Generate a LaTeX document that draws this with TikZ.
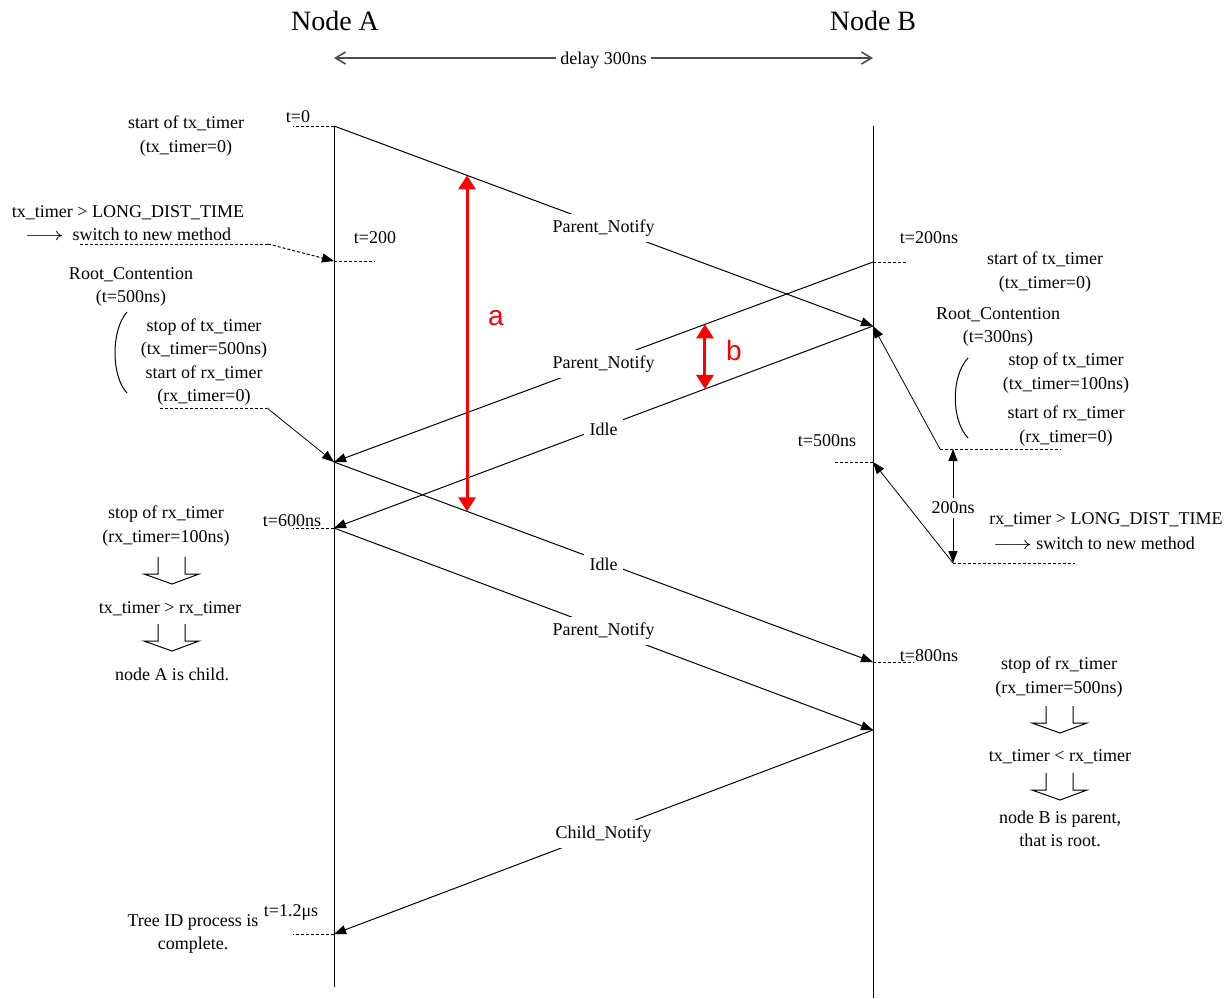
\documentclass[tikz,border=0pt]{standalone}
\usepackage{fontspec}
\setmainfont{Liberation Serif}
\newfontfamily\redsans{Liberation Sans}
\usetikzlibrary{arrows.meta,calc}

\begin{document}
\begin{tikzpicture}[
    x=0.5pt, y=-0.5pt,
    >={Triangle[length=6pt,width=4.5pt]},
    lbl/.style={font=\fontsize{9}{11.6}\selectfont, inner sep=0pt, align=center, yshift=-1pt},
    title/.style={font=\fontsize{14}{16}\selectfont},
    life/.style={line width=0.5pt},
    msg/.style={->, line width=0.5pt},
    msglbl/.style={lbl, fill=white, inner sep=3pt},
    tick/.style={line width=0.5pt, dash pattern=on 1.5pt off 1pt},
    note/.style={->, line width=0.4pt},
    redarr/.style={{Triangle[length=7pt,width=8.5pt]}-{Triangle[length=7pt,width=8.5pt]},
                   red, line width=1.5pt},
    redlbl/.style={red, font=\redsans\fontsize{14}{16}\selectfont},
    hollow/.pic={\draw[line width=0.5pt] (-14,0) -- (-14,17) -- (-28,17) -- (0,27)
                 -- (27,17) -- (13,17) -- (13,0);},
]
\useasboundingbox (0,0) rectangle (1232,998);

% lifelines
\node[title] (nA) at (335,21) {Node A};
\node[title] (nB) at (873,21) {Node B};
\coordinate (Atop) at (334,126);
\coordinate (Abot) at (334,987);
\coordinate (Btop) at (873,126);
\coordinate (Bbot) at (873,998);
\draw[life] (Atop) -- (Abot);
\draw[life] (Btop) -- (Bbot);

\coordinate (dl) at (334,58);
\coordinate (dr) at (873,58);
\draw[{Straight Barb[length=5pt,width=6pt]}-{Straight Barb[length=5pt,width=6pt]},
      gray!60!black, line width=0.8pt]
    (dl) -- node[lbl, fill=white, inner sep=2pt, text=black] {delay 300ns} (dr);

% events on the lifelines
\coordinate (A0) at (334,126);
\coordinate (A200) at (334,261);
\coordinate (A1) at (334,462);
\coordinate (A2) at (334,528);
\coordinate (A3) at (334,934);
\coordinate (B0) at (873,262);
\coordinate (B1) at (873,326);
\coordinate (B500) at (873,462);
\coordinate (B2) at (873,662);
\coordinate (B3) at (873,730);

% messages
\draw[msg] (A0) -- node[msglbl] {Parent\_Notify} (B1);
\draw[msg] (B0) -- node[msglbl] {Parent\_Notify} (A1);
\draw[msg] (B1) -- node[msglbl] {Idle} (A2);
\draw[msg] (A1) -- node[msglbl] {Idle} (B2);
\draw[msg] (A2) -- node[msglbl] {Parent\_Notify} (B3);
\draw[msg] (B3) -- node[msglbl] {Child\_Notify} (A3);

% time marks
\draw[tick] (A0) -- ++(-41,0);
\draw[tick] (A200) -- ++(41,0);
\draw[tick] (A2) -- ++(-41,0);
\draw[tick] (A3) -- ++(-41,0);
\draw[tick] (B0) -- ++(34,0);
\draw[tick] (B500) -- ++(-40,0);
\draw[tick] (B2) -- ++(41,0);
\node[lbl] (t0) at (298,115) {t=0};
\node[lbl] (t200) at (375,236) {t=200};
\node[lbl] (t600) at (292,519) {t=600ns};
\node[lbl] (t1200) at (291,910) {t=1.2μs};
\node[lbl] (tB200) at (929,236) {t=200ns};
\node[lbl] (tB500) at (827,439) {t=500ns};
\node[lbl] (tB800) at (929,654) {t=800ns};

% Node A side
\node[lbl] (stA) at (186,134) {start of tx\_timer\\(tx\_timer=0)};
\node[lbl] (swA) at (128,221) {tx\_timer > LONG\_DIST\_TIME\\\scalebox{1.3}[1]{$\longrightarrow$}\ \ switch to new method};
\coordinate (swA1) at (80,244);
\coordinate (swA2) at (268,244);
\draw[tick] (swA1) -- (swA2);
\draw[tick, ->] (swA2) -- (A200);

\node[lbl] (rcA) at (131,285) {Root\_Contention\\(t=500ns)};
\node[lbl] (spA) at (204,360) {stop of tx\_timer\\(tx\_timer=500ns)\\start of rx\_timer\\(rx\_timer=0)};
\draw[line width=0.5pt] (127,312) .. controls (111,330) and (111,376) .. (127,393);
\coordinate (spA1) at (160,408);
\coordinate (spA2) at (267,408);
\draw[tick] (spA1) -- (spA2);
\draw[note] (spA2) -- (A1);

\node[lbl] (srA) at (166,524) {stop of rx\_timer\\(rx\_timer=100ns)};
\pic at (172,557) {hollow};
\node[lbl] (cmpA) at (170,607) {tx\_timer > rx\_timer};
\pic at (172,624) {hollow};
\node[lbl] (resA) at (172,672) {node A is child.};
\node[lbl] (doneA) at (193,932) {Tree ID process is\\complete.};

% Node B side
\node[lbl] (stB) at (1045,270) {start of tx\_timer\\(tx\_timer=0)};
\node[lbl] (rcB) at (998,325) {Root\_Contention\\(t=300ns)};
\node[lbl] (spB1) at (1066,371) {stop of tx\_timer\\(tx\_timer=100ns)};
\node[lbl] (spB2) at (1066,424) {start of rx\_timer\\(rx\_timer=0)};
\draw[line width=0.5pt] (968,358) .. controls (951,376) and (951,420) .. (968,438);
\coordinate (spB3) at (940,449);
\coordinate (spB4) at (1061,449);
\draw[tick] (spB3) -- (spB4);
\draw[note] (spB3) -- (B1);

\coordinate (swB1) at (953,563);
\coordinate (swB2) at (1075,563);
\draw[tick] (swB1) -- (swB2);
\draw[note] (swB1) -- (B500);
\coordinate (gap) at (953,449);
\draw[<->, line width=0.5pt] (gap) -- node[lbl, fill=white, inner sep=2pt] {200ns} (swB1);
\node[lbl] (swB) at (1106,518) {rx\_timer > LONG\_DIST\_TIME};
\node[lbl] (swBb) at (1094,541) {\scalebox{1.3}[1]{$\longrightarrow$}\ switch to new method};

\node[lbl] (srB) at (1059,675) {stop of rx\_timer\\(rx\_timer=500ns)};
\pic at (1060,706) {hollow};
\node[lbl] (cmpB) at (1060,755) {tx\_timer < rx\_timer};
\pic at (1060,773) {hollow};
\node[lbl] (resB) at (1060,827) {node B is parent,\\that is root.};

% round trip times
\coordinate (aTop) at ($(A0)!0.2468!(B1)$);
\coordinate (aBot) at ($(A1)!0.2468!(B2)$);
\coordinate (bTop) at ($(B0)!0.3117!(A1)$);
\coordinate (bBot) at ($(B1)!0.3117!(A2)$);
\draw[redarr] (aTop) -- (aBot);
\draw[redarr] (bTop) -- (bBot);
\node[redlbl] (la) at (496,318) {a};
\node[redlbl] (lb) at (734,350) {b};
\end{tikzpicture}
\end{document}
